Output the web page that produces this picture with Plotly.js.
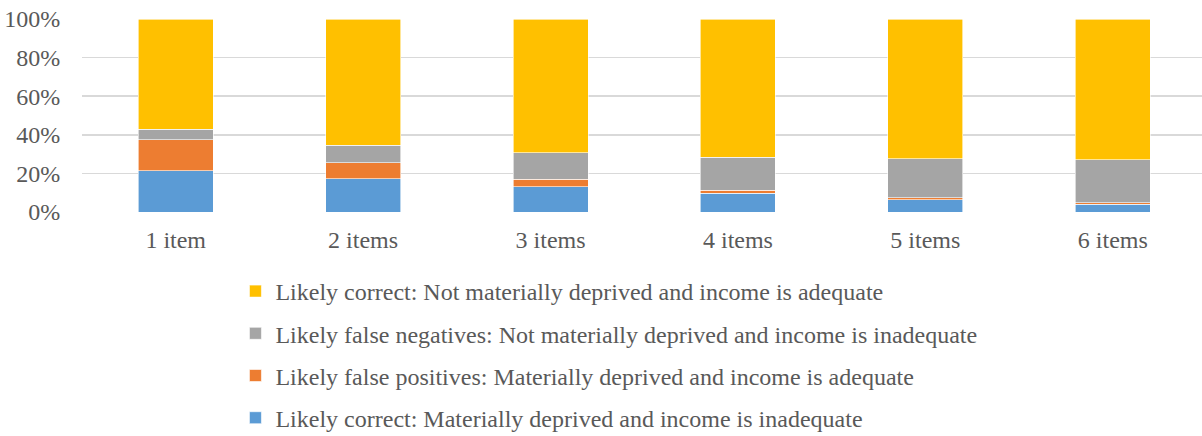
<!DOCTYPE html>
<html><head><meta charset="utf-8">
<script src="https://cdn.plot.ly/plotly-3.0.1.min.js"></script>
<style>html,body{margin:0;padding:0;background:#fff}#chart{width:1202px;height:436px}</style>
</head><body><div id="chart"></div>
<script>
const categories = ["1 item","2 items","3 items","4 items","5 items","6 items"];
const correctDeprived = [21.4, 17.3, 13.2, 9.7, 6.4, 4.1];
const falsePositives = [16.1, 8.1, 3.9, 1.5, 1.1, 0.8];
const falseNegatives = [5.3, 9.3, 13.7, 17.3, 20.0, 22.3];
const correctNotDeprived = [57.2, 65.3, 69.2, 71.5, 72.5, 72.8];
const seriesNames = [
  "Likely correct: Materially deprived and income is inadequate",
  "Likely false positives: Materially deprived and income is adequate",
  "Likely false negatives: Not materially deprived and income is inadequate",
  "Likely correct: Not materially deprived and income is adequate"
];
const colors = ["#5B9BD5","#ED7D31","#A5A5A5","#FFC000"];
const values = [correctDeprived, falsePositives, falseNegatives, correctNotDeprived];
const traces = values.map((v,i)=>({
  type:'bar', x:categories, y:v.map(d=>d/100), name:seriesNames[i],
  marker:{color:colors[i], line:{color:'#ffffff', width:0.6}},
  legendgroup:'g'+i, legendrank:1000-i, width:0.4
}));
const font = {family:'Liberation Serif', size:24, color:'#595959'};
const layout = {
  width:1202, height:436,
  margin:{l:82, r:0, t:19, b:224},
  barmode:'stack', bargap:0.6,
  paper_bgcolor:'#fff', plot_bgcolor:'#fff',
  font:font,
  xaxis:{type:'category', range:[-0.5,5.476], showgrid:false, zeroline:false, showline:false,
    ticks:'outside', ticklen:6, tickcolor:'rgba(0,0,0,0)', tickfont:font},
  yaxis:{range:[0,1], tickvals:[0,0.2,0.4,0.6,0.8,1], ticktext:['0%','20%','40%','60%','80%','100%'],
    showgrid:true, gridcolor:'#D9D9D9', gridwidth:1.5, zeroline:false, showline:false,
    ticks:'outside', ticklen:16, tickcolor:'rgba(0,0,0,0)', tickfont:font},
  showlegend:true,
  legend:{orientation:'v', traceorder:'grouped', tracegroupgap:8,
    x:0.137, xanchor:'left', y:0.383, yanchor:'top', yref:'container',
    font:font, bgcolor:'rgba(0,0,0,0)'}
};
Plotly.newPlot('chart', traces, layout, {displayModeBar:false, staticPlot:true});
</script></body></html>
